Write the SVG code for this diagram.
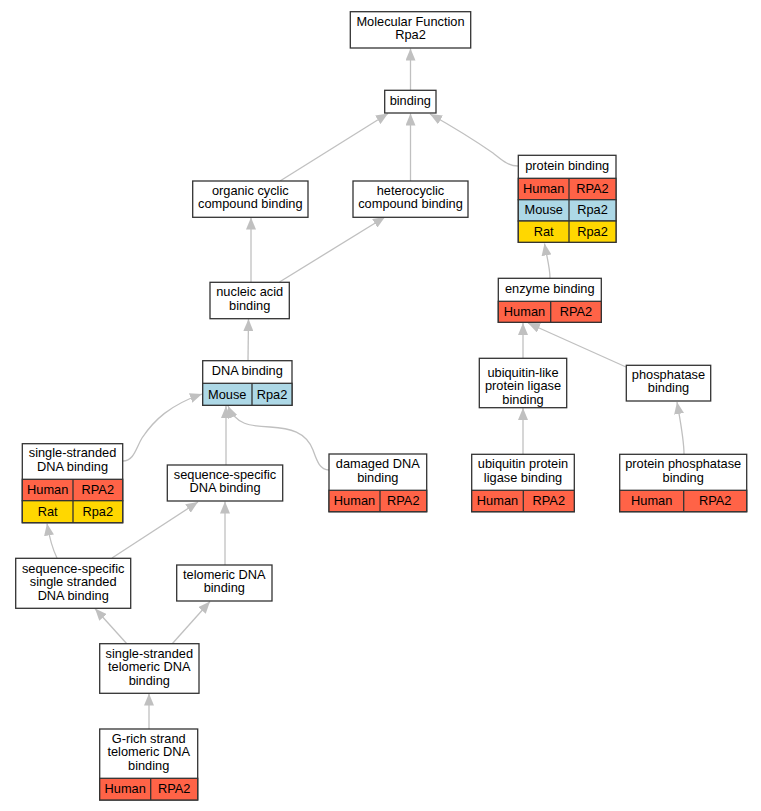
<svg xmlns="http://www.w3.org/2000/svg" width="761" height="811" viewBox="0 0 761 811">
<style>
text{font-family:"Liberation Sans",Arial,sans-serif;font-size:12.8px;fill:#000;text-anchor:middle}
.b{fill:#fff;stroke:#333;stroke-width:1.3}
.c{stroke:#333;stroke-width:1.3}
.h{fill:#ff6347}
.m{fill:#add8e6}
.r{fill:#ffd700}
.e{fill:none;stroke:#c0c0c0;stroke-width:1.3;marker-end:url(#a)}
</style>
<defs>
<marker id="a" viewBox="0 0 12 10" refX="12" refY="5" markerWidth="12" markerHeight="10" markerUnits="userSpaceOnUse" orient="auto">
<path d="M0,0 L12,5 L0,10 z" fill="#c0c0c0"/>
</marker>
</defs>
<rect width="761" height="811" fill="#fff"/>
<g id="edges">
<path class="e" d="M410.5,90 L410.5,48.5"/>
<path class="e" d="M280,181 L388,113.5"/>
<path class="e" d="M410.5,181 L410.5,113.5"/>
<path class="e" d="M518,166 C508,166 502,160 493,153 C480,144 455,128 430,114"/>
<path class="e" d="M251,282 L251,217.5"/>
<path class="e" d="M279.5,282 L385,217"/>
<path class="e" d="M550,278 C550,268 547,258 544.5,243.5"/>
<path class="e" d="M248,360.7 L248.5,319"/>
<path class="e" d="M123,461 C134,461 136,448 142,438 C154,420 170,405 202,394"/>
<path class="e" d="M226,465 L226,406"/>
<path class="e" d="M329,470 C319,470 316,458 313,450 C306,432 290,428 270,427 C250,426 236,425 228,406"/>
<path class="e" d="M523,358 L523,323"/>
<path class="e" d="M626,367 L528,323"/>
<path class="e" d="M523,454 L523,408"/>
<path class="e" d="M684,454 C684,440 681,425 677,402"/>
<path class="e" d="M57,558 C53,550 50,541 47,523.5"/>
<path class="e" d="M112,558 L198,502"/>
<path class="e" d="M225,565 L225,501.5"/>
<path class="e" d="M127,644 L95,608.5"/>
<path class="e" d="M172,644 L210,601.5"/>
<path class="e" d="M149,729 L149,693.5"/>
</g>
<g id="n_mf">
<rect class="b" x="350.3" y="11.7" width="120.4" height="36.3"/>
<text x="410.5" y="25.5">Molecular Function</text>
<text x="410.5" y="39">Rpa2</text>
</g>
<g id="n_binding">
<rect class="b" x="384.7" y="90.3" width="51.3" height="22.7"/>
<text x="410.3" y="104.5">binding</text>
</g>
<g id="n_organic">
<rect class="b" x="192.7" y="181" width="115.3" height="36.3"/>
<text x="250.3" y="194.7">organic cyclic</text>
<text x="250.3" y="208.2">compound binding</text>
</g>
<g id="n_hetero">
<rect class="b" x="353" y="181" width="115" height="36.3"/>
<text x="410.5" y="194.7">heterocyclic</text>
<text x="410.5" y="208.2">compound binding</text>
</g>
<g id="n_protein">
<rect class="b" x="518.3" y="155.3" width="97.7" height="87"/>
<rect class="c h" x="518.3" y="178.3" width="97.7" height="21.4"/>
<rect class="c m" x="518.3" y="199.7" width="97.7" height="21.3"/>
<rect class="c r" x="518.3" y="221" width="97.7" height="21.3"/>
<line class="c" x1="569" y1="178.3" x2="569" y2="242.3"/>
<text x="567.2" y="170">protein binding</text>
<text x="543.7" y="193">Human</text>
<text x="592.5" y="193">RPA2</text>
<text x="543.7" y="214.3">Mouse</text>
<text x="592.5" y="214.3">Rpa2</text>
<text x="543.7" y="235.6">Rat</text>
<text x="592.5" y="235.6">Rpa2</text>
</g>
<g id="n_nucleic">
<rect class="b" x="210" y="282.3" width="79.3" height="36.4"/>
<text x="249.7" y="296">nucleic acid</text>
<text x="249.7" y="309.5">binding</text>
</g>
<g id="n_enzyme">
<rect class="b" x="498.3" y="278.3" width="103" height="44"/>
<rect class="c h" x="498.3" y="301.3" width="103" height="21"/>
<line class="c" x1="550.7" y1="301.3" x2="550.7" y2="322.3"/>
<text x="549.8" y="293">enzyme binding</text>
<text x="524.5" y="316">Human</text>
<text x="576" y="316">RPA2</text>
</g>
<g id="n_dna">
<rect class="b" x="202.7" y="360.7" width="89.3" height="44.6"/>
<rect class="c m" x="202.7" y="383.3" width="89.3" height="22"/>
<line class="c" x1="252" y1="383.3" x2="252" y2="405.3"/>
<text x="247.3" y="375">DNA binding</text>
<text x="227.3" y="398.5">Mouse</text>
<text x="272" y="398.5">Rpa2</text>
</g>
<g id="n_ubl">
<rect class="b" x="479.3" y="358.3" width="87.4" height="49.4"/>
<text x="523" y="376.5">ubiquitin-like</text>
<text x="523" y="390">protein ligase</text>
<text x="523" y="403.5">binding</text>
</g>
<g id="n_phos">
<rect class="b" x="626.3" y="365.3" width="84.4" height="35.7"/>
<text x="668.5" y="378.7">phosphatase</text>
<text x="668.5" y="392.2">binding</text>
</g>
<g id="n_ssdna">
<rect class="b" x="22.3" y="443.7" width="100.4" height="79"/>
<rect class="c h" x="22.3" y="479.3" width="100.4" height="21.4"/>
<rect class="c r" x="22.3" y="500.7" width="100.4" height="22"/>
<line class="c" x1="73" y1="479.3" x2="73" y2="522.7"/>
<text x="72.5" y="457.3">single-stranded</text>
<text x="72.5" y="470.8">DNA binding</text>
<text x="47.7" y="494">Human</text>
<text x="97.8" y="494">RPA2</text>
<text x="47.7" y="515.7">Rat</text>
<text x="97.8" y="515.7">Rpa2</text>
</g>
<g id="n_seqdna">
<rect class="b" x="167.3" y="465" width="115.4" height="36"/>
<text x="225" y="478.6">sequence-specific</text>
<text x="225" y="492.1">DNA binding</text>
</g>
<g id="n_damaged">
<rect class="b" x="329" y="454" width="97.7" height="57.7"/>
<rect class="c h" x="329" y="490.3" width="97.7" height="21.4"/>
<line class="c" x1="380" y1="490.3" x2="380" y2="511.7"/>
<text x="377.8" y="468">damaged DNA</text>
<text x="377.8" y="481.5">binding</text>
<text x="354.5" y="505">Human</text>
<text x="403.3" y="505">RPA2</text>
</g>
<g id="n_ubprot">
<rect class="b" x="471.7" y="454.3" width="102.6" height="57.4"/>
<rect class="c h" x="471.7" y="490.3" width="102.6" height="21.4"/>
<line class="c" x1="523.3" y1="490.3" x2="523.3" y2="511.7"/>
<text x="523" y="468">ubiquitin protein</text>
<text x="523" y="481.5">ligase binding</text>
<text x="497.5" y="505">Human</text>
<text x="548.8" y="505">RPA2</text>
</g>
<g id="n_protphos">
<rect class="b" x="619.7" y="454.3" width="127" height="57.4"/>
<rect class="c h" x="619.7" y="490.3" width="127" height="21.4"/>
<line class="c" x1="683.7" y1="490.3" x2="683.7" y2="511.7"/>
<text x="683.2" y="468">protein phosphatase</text>
<text x="683.2" y="481.5">binding</text>
<text x="651.7" y="505">Human</text>
<text x="715.2" y="505">RPA2</text>
</g>
<g id="n_seqss">
<rect class="b" x="15.7" y="558.3" width="115" height="50"/>
<text x="73.2" y="572.5">sequence-specific</text>
<text x="73.2" y="586">single stranded</text>
<text x="73.2" y="599.5">DNA binding</text>
</g>
<g id="n_telo">
<rect class="b" x="176.7" y="565" width="95.3" height="36"/>
<text x="224.3" y="578.6">telomeric DNA</text>
<text x="224.3" y="592.1">binding</text>
</g>
<g id="n_sstelo">
<rect class="b" x="99.7" y="643.7" width="99.3" height="49.6"/>
<text x="149.3" y="657.6">single-stranded</text>
<text x="149.3" y="671.1">telomeric DNA</text>
<text x="149.3" y="684.6">binding</text>
</g>
<g id="n_grich">
<rect class="b" x="99.7" y="729" width="98" height="71"/>
<rect class="c h" x="99.7" y="778.3" width="98" height="21.7"/>
<line class="c" x1="150.7" y1="778.3" x2="150.7" y2="800"/>
<text x="148.7" y="742.8">G-rich strand</text>
<text x="148.7" y="756.3">telomeric DNA</text>
<text x="148.7" y="769.8">binding</text>
<text x="125.2" y="793.3">Human</text>
<text x="174.2" y="793.3">RPA2</text>
</g>
</svg>
